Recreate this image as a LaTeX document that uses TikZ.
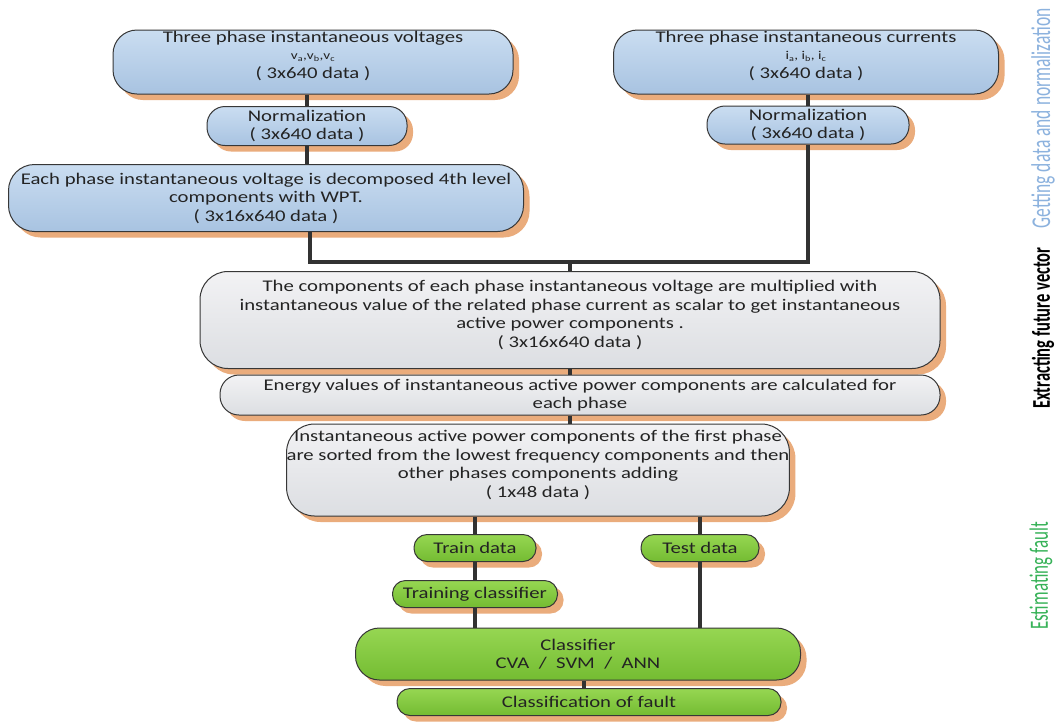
\documentclass[tikz,border=0pt]{standalone}
\usepackage{fontspec}
\setmainfont{Carlito}[FakeStretch=1.27]
\newfontfamily\sidefont{Carlito}
\usetikzlibrary{shadows,calc}
\definecolor{linec}{RGB}{55,55,55}
\definecolor{connc}{RGB}{50,50,50}
\definecolor{textc}{RGB}{35,35,35}
\definecolor{shadowc}{RGB}{234,172,124}
\definecolor{blueT}{RGB}{202,221,241}
\definecolor{blueB}{RGB}{168,195,225}
\definecolor{grayT}{RGB}{242,242,244}
\definecolor{grayB}{RGB}{220,222,226}
\definecolor{greenT}{RGB}{150,214,82}
\definecolor{greenB}{RGB}{116,188,50}
\definecolor{sideblue}{RGB}{140,178,222}
\definecolor{sidegreen}{RGB}{55,178,88}
\tikzset{
  box/.style={draw=linec, line width=1pt, align=center, inner sep=0pt, text=textc,
    font=\fontsize{16.3}{18.5}\selectfont,
    drop shadow={fill=shadowc, shadow xshift=6pt, shadow yshift=-6pt, opacity=1}},
  bluebox/.style={box, top color=blueT, bottom color=blueB},
  graybox/.style={box, top color=grayT, bottom color=grayB},
  greenbox/.style={box, top color=greenT, bottom color=greenB},
  conn/.style={draw=connc, line width=3.2pt},
  side/.style={rotate=90, inner sep=0pt}
}
\begin{document}
\begin{tikzpicture}[x=1pt,y=-1pt]
\useasboundingbox[fill=white] (0,0) rectangle (1060,721);

% blue group
\node[bluebox, minimum width=400pt, minimum height=64pt, rounded corners=24pt] (V) at (313,62)
  {Three phase instantaneous voltages\\[-1pt]{\fontsize{12}{12}\selectfont v\textsubscript{a},v\textsubscript{b},v\textsubscript{c}}\\( 3x640 data )\\[-4pt]\mbox{}};
\node[bluebox, minimum width=385pt, minimum height=64pt, rounded corners=24pt] (I) at (806,62)
  {Three phase instantaneous currents\\[-1pt]{\fontsize{12}{12}\selectfont i\textsubscript{a}, i\textsubscript{b}, i\textsubscript{c}}\\( 3x640 data )\\[-4pt]\mbox{}};
\node[bluebox, minimum width=200pt, minimum height=39pt, rounded corners=18pt] (NL) at (307,126)
  {Normalization\\( 3x640 data )};
\node[bluebox, minimum width=202pt, minimum height=38pt, rounded corners=18pt] (NR) at (808,125)
  {Normalization\\( 3x640 data )};
\node[bluebox, minimum width=515pt, minimum height=67pt, rounded corners=26pt] (W) at (266,198)
  {Each phase instantaneous voltage is decomposed 4th level\\components with WPT.\\( 3x16x640 data )};

% gray group
\node[graybox, minimum width=740pt, minimum height=97pt, rounded corners=28pt] (C) at (570,320)
  {\fontsize{16.3}{19}\selectfont The components of each phase instantaneous voltage are multiplied with\\instantaneous value of the related phase current as scalar to get instantaneous\\active power components .\\( 3x16x640 data )\\[-6pt]\mbox{}};
\node[graybox, minimum width=720pt, minimum height=40pt, rounded corners=19pt] (E) at (580,395)
  {Energy values of instantaneous active power components are calculated for\\each phase};
\node[graybox, minimum width=455pt, minimum height=92pt, rounded corners=28pt] (S) at (538,470)
  {\fontsize{16.3}{19}\selectfont Instantaneous active power components of the first phase\\are sorted from the lowest frequency components and then\\other phases components adding\\( 1x48 data )\\[-6pt]\mbox{}};

% green group
\node[greenbox, minimum width=122pt, minimum height=27pt, rounded corners=13pt] (TR) at (475,548) {Train data};
\node[greenbox, minimum width=118pt, minimum height=27pt, rounded corners=13pt] (TE) at (700,548) {Test data};
\node[greenbox, minimum width=165pt, minimum height=27pt, rounded corners=13pt] (TC) at (475,594) {Training classifier};
\node[greenbox, minimum width=445pt, minimum height=52pt, rounded corners=24pt] (CL) at (578,654) {Classifier\\CVA\ \ /\ \ SVM\ \ /\ \ ANN};
\node[greenbox, minimum width=384pt, minimum height=27pt, rounded corners=13pt] (CF) at (589,702) {Classification of fault};

% junction coordinates
\coordinate (J1) at (310,262);
\coordinate (J2) at (808,262);
\coordinate (J3) at (570,262);

% connectors
\draw[conn] (NL.north |- V.south) -- (NL.north);
\draw[conn] (NR.north |- I.south) -- (NR.north);
\draw[conn] (NL.south) -- (NL.south |- W.north);
\draw[conn] (J1 |- W.south) -- (J1) -- (J2) -- (NR.south);
\draw[conn] (J3) -- (C.north);
\draw[conn] (C.south) -- (C.south |- E.north);
\draw[conn] (C.south |- E.south) -- (C.south |- S.north);
\draw[conn] (TR.north |- S.south) -- (TR.north);
\draw[conn] (TE.north |- S.south) -- (TE.north);
\draw[conn] (TR.south) -- (TC.north);
\draw[conn] (TC.south) -- (TC.south |- CL.north);
\draw[conn] (TE.south) -- (TE.south |- CL.north);
\draw[conn] (CL.south -| 584,0) -- (CF.north -| 584,0);

% side labels
\node[side, text=sideblue] (L1) at (1043,118) {\scalebox{1}[1.55]{\sidefont\fontsize{17.5}{18}\selectfont Getting data and normalization}};
\node[side, text=black] (L2) at (1043,328) {\scalebox{1}[1.55]{\sidefont\bfseries\fontsize{16.5}{18}\selectfont Extracting future vector}};
\node[side, text=sidegreen] (L3) at (1041,576) {\scalebox{1}[1.55]{\sidefont\fontsize{17}{18}\selectfont Estimating fault}};
\end{tikzpicture}
\end{document}
